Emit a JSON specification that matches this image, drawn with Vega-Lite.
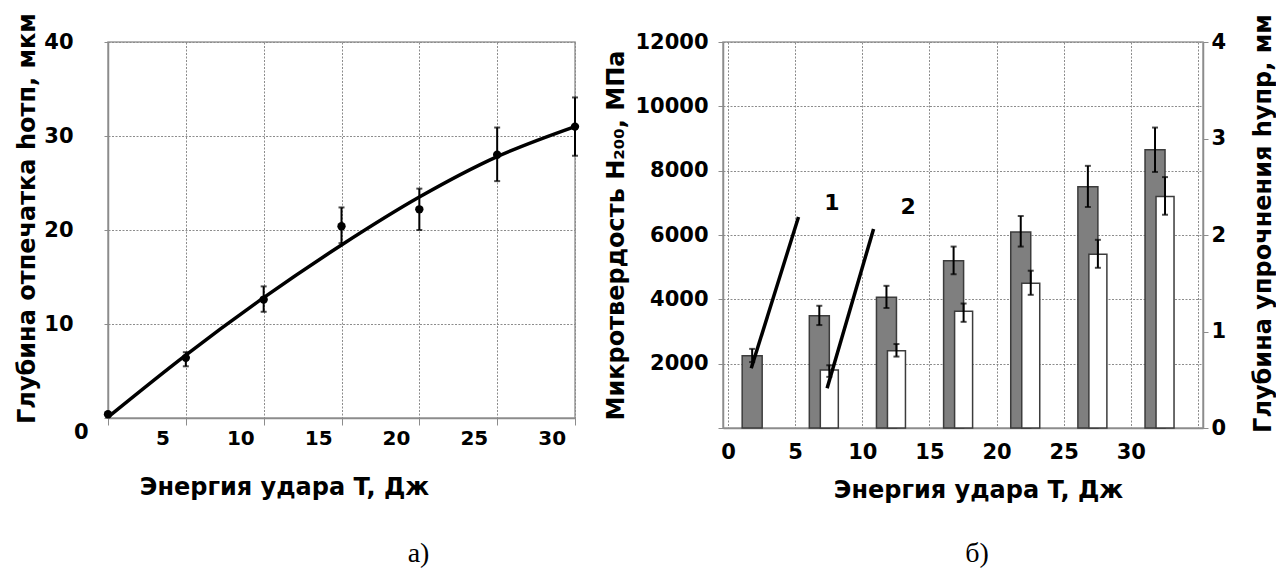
{
  "$schema": "https://vega.github.io/schema/vega-lite/v6.json",
  "padding": {"left": 14, "top": 7, "right": 0, "bottom": 0},
  "spacing": 148,
  "bounds": "flush",
  "background": "white",
  "config": {
    "font": "DejaVu Sans",
    "view": {"stroke": "#9a9a9a", "strokeWidth": 1.5},
    "axis": {
      "labelFont": "DejaVu Sans", "labelFontWeight": "bold", "labelFontSize": 21, "labelColor": "#000",
      "titleFont": "DejaVu Sans", "titleFontWeight": "bold", "titleFontSize": 24, "titleColor": "#000",
      "gridColor": "#8c8c8c", "gridDash": [2, 1.5], "gridWidth": 1,
      "domainColor": "#8c8c8c", "domainWidth": 1.5, "tickColor": "#8c8c8c", "tickWidth": 1,
      "labelOverlap": false
    },
    "title": {"font": "Liberation Serif", "fontSize": 28, "fontWeight": "normal", "color": "#000"}
  },
  "datasets": {
    "depth": [
      {"T": 1.5, "d": 0.4, "lo": null, "hi": null},
      {"T": 6.5, "d": 6.4, "lo": 5.5, "hi": 7.0},
      {"T": 11.5, "d": 12.6, "lo": 11.3, "hi": 14.0},
      {"T": 16.5, "d": 20.4, "lo": 18.6, "hi": 22.4},
      {"T": 21.5, "d": 22.2, "lo": 20.0, "hi": 24.4},
      {"T": 26.5, "d": 28.0, "lo": 25.2, "hi": 30.9},
      {"T": 31.5, "d": 31.0, "lo": 27.9, "hi": 34.1}
    ],
    "fit": [
      {"T": 1.5, "h": 0.1},
      {"T": 6.5, "h": 6.7},
      {"T": 11.5, "h": 12.8},
      {"T": 16.5, "h": 18.4},
      {"T": 21.5, "h": 23.5},
      {"T": 26.5, "h": 27.8},
      {"T": 31.5, "h": 31.0}
    ],
    "hard": [
      {"T": 1.8, "H": 2250, "H_lo": 2050, "H_hi": 2460, "h": null, "h_lo": null, "h_hi": null},
      {"T": 6.8, "H": 3490, "H_lo": 3200, "H_hi": 3800, "h": 0.60, "h_lo": 0.53, "h_hi": 0.65},
      {"T": 11.8, "H": 4065, "H_lo": 3730, "H_hi": 4420, "h": 0.80, "h_lo": 0.74, "h_hi": 0.87},
      {"T": 16.8, "H": 5200, "H_lo": 4780, "H_hi": 5640, "h": 1.21, "h_lo": 1.10, "h_hi": 1.29},
      {"T": 21.8, "H": 6090, "H_lo": 5640, "H_hi": 6590, "h": 1.50, "h_lo": 1.38, "h_hi": 1.63},
      {"T": 26.8, "H": 7500, "H_lo": 6870, "H_hi": 8150, "h": 1.80, "h_lo": 1.66, "h_hi": 1.95},
      {"T": 31.8, "H": 8650, "H_lo": 7960, "H_hi": 9340, "h": 2.40, "h_lo": 2.21, "h_hi": 2.60}
    ],
    "leaders": [
      {"T_a": 5.25, "H_a": 6560, "T_b": 1.73, "H_b": 1856},
      {"T_a": 10.84, "H_a": 6187, "T_b": 7.38, "H_b": 1234}
    ],
    "tags": [
      {"T": 7.73, "H": 6995, "n": "1"},
      {"T": 13.42, "H": 6870, "n": "2"}
    ]
  },
  "hconcat": [
    {
      "width": 467,
      "height": 376,
      "title": {"text": "а)", "orient": "bottom", "offset": 41, "dx": 77},
      "layer": [
        {
          "data": {"name": "fit"},
          "mark": {"type": "line", "interpolate": "monotone", "color": "#000", "strokeWidth": 3.5},
          "encoding": {
            "x": {
              "field": "T", "type": "quantitative",
              "scale": {"domain": [1.5, 31.5], "nice": false, "zero": false},
              "axis": {"orient": "bottom", "values": [1.5, 6.5, 11.5, 16.5, 21.5, 26.5, 31.5], "labels": false, "title": null, "grid": true, "ticks": true, "tickSize": 7, "domain": true}
            },
            "y": {
              "field": "h", "type": "quantitative",
              "scale": {"domain": [0, 40], "nice": false},
              "axis": {
                "values": [0, 10, 20, 30, 40],
                "tickSize": 4,
                "labelPadding": {"condition": {"test": "datum.value == 0", "value": 16}, "value": 31},
                "labelOffset": {"condition": {"test": "datum.value == 0", "value": 14}, "value": 0},
                "minExtent": 62, "maxExtent": 62,
                "title": "Глубина отпечатка  hотп, мкм", "titlePadding": 7, "titleY": 176
              }
            }
          }
        },
        {
          "data": {"name": "depth"},
          "mark": {"type": "rule", "color": "#000", "strokeWidth": 2},
          "encoding": {
            "x": {"field": "T", "type": "quantitative", "axis": null},
            "y": {"field": "lo", "type": "quantitative"},
            "y2": {"field": "hi"}
          }
        },
        {
          "data": {"name": "depth"},
          "mark": {"type": "tick", "orient": "horizontal", "color": "#000", "size": 6, "thickness": 2},
          "encoding": {
            "x": {"field": "T", "type": "quantitative", "axis": null},
            "y": {"field": "lo", "type": "quantitative"}
          }
        },
        {
          "data": {"name": "depth"},
          "mark": {"type": "tick", "orient": "horizontal", "color": "#000", "size": 6, "thickness": 2},
          "encoding": {
            "x": {"field": "T", "type": "quantitative", "axis": null},
            "y": {"field": "hi", "type": "quantitative"}
          }
        },
        {
          "data": {"name": "depth"},
          "mark": {"type": "point", "filled": true, "color": "#000", "size": 70, "opacity": 1},
          "encoding": {
            "x": {
              "field": "T", "type": "quantitative",
              "axis": {
                "orient": "bottom",
                "values": [5, 10, 15, 20, 25, 30], "grid": false, "ticks": false, "tickSize": 0, "domain": false,
                "labelFontSize": 20, "labelFlush": false, "labelPadding": 10, "minExtent": 31, "maxExtent": 31,
                "title": "Энергия удара  T, Дж", "titlePadding": 26, "titleX": 176
              }
            },
            "y": {"field": "d", "type": "quantitative"}
          }
        }
      ],
      "resolve": {"axis": {"x": "independent"}}
    },
    {
      "width": 480,
      "height": 386,
      "title": {"text": "б)", "orient": "bottom", "offset": 38, "dx": 14},
      "layer": [
        {
          "layer": [
            {
              "data": {"name": "hard"},
              "mark": {"type": "bar", "size": 20, "fill": "#7f7f7f", "stroke": "#3c3c3c", "strokeWidth": 1.5},
              "encoding": {
                "x": {
                  "field": "T", "type": "quantitative",
                  "scale": {"domain": [0, 35], "nice": false, "zero": false},
                  "axis": {
                    "orient": "bottom",
                    "values": [0, 5, 10, 15, 20, 25, 30, 35],
                    "labelExpr": "datum.value >= 35 ? '' : datum.label",
                    "grid": true, "ticks": false, "tickSize": 0, "labelPadding": 13,
                    "minExtent": 34, "maxExtent": 34,
                    "title": "Энергия удара  T, Дж", "titlePadding": 16, "titleX": 255
                  }
                },
                "y": {
                  "field": "H", "type": "quantitative",
                  "scale": {"domain": [0, 12000], "nice": false},
                  "axis": {
                    "orient": "left",
                    "values": [0, 2000, 4000, 6000, 8000, 10000, 12000],
                    "format": "d",
                    "labelExpr": "datum.value == 0 ? '' : datum.label",
                    "tickSize": 5, "labelPadding": 10, "minExtent": 88, "maxExtent": 88,
                    "title": "Микротвердость  H₂₀₀, МПа", "titlePadding": 7
                  }
                }
              }
            },
            {
              "data": {"name": "hard"},
              "mark": {"type": "rule", "color": "#000", "strokeWidth": 2},
              "encoding": {
                "x": {"field": "T", "type": "quantitative"},
                "y": {"field": "H_lo", "type": "quantitative"},
                "y2": {"field": "H_hi"}
              }
            },
            {
              "data": {"name": "hard"},
              "mark": {"type": "tick", "orient": "horizontal", "color": "#000", "size": 6, "thickness": 2},
              "encoding": {
                "x": {"field": "T", "type": "quantitative"},
                "y": {"field": "H_lo", "type": "quantitative"}
              }
            },
            {
              "data": {"name": "hard"},
              "mark": {"type": "tick", "orient": "horizontal", "color": "#000", "size": 6, "thickness": 2},
              "encoding": {
                "x": {"field": "T", "type": "quantitative"},
                "y": {"field": "H_hi", "type": "quantitative"}
              }
            }
          ]
        },
        {
          "layer": [
            {
              "data": {"name": "hard"},
              "mark": {"type": "bar", "size": 18, "xOffset": 10, "fill": "#ffffff", "stroke": "#3c3c3c", "strokeWidth": 1.5},
              "encoding": {
                "x": {"field": "T", "type": "quantitative"},
                "y": {
                  "field": "h", "type": "quantitative",
                  "scale": {"domain": [0, 4], "nice": false},
                  "axis": {
                    "orient": "right",
                    "values": [0, 1, 2, 3, 4],
                    "format": "d",
                    "grid": false, "tickSize": 5, "labelPadding": 3, "minExtent": 22, "maxExtent": 22,
                    "title": "Глубина упрочнения  hупр, мм", "titleAngle": -90, "titleBaseline": "top",
                    "titlePadding": 26, "titleY": 181
                  }
                }
              }
            },
            {
              "data": {"name": "hard"},
              "mark": {"type": "rule", "xOffset": 10, "color": "#000", "strokeWidth": 2},
              "encoding": {
                "x": {"field": "T", "type": "quantitative"},
                "y": {"field": "h_lo", "type": "quantitative"},
                "y2": {"field": "h_hi"}
              }
            },
            {
              "data": {"name": "hard"},
              "mark": {"type": "tick", "orient": "horizontal", "xOffset": 10, "color": "#000", "size": 6, "thickness": 2},
              "encoding": {
                "x": {"field": "T", "type": "quantitative"},
                "y": {"field": "h_lo", "type": "quantitative"}
              }
            },
            {
              "data": {"name": "hard"},
              "mark": {"type": "tick", "orient": "horizontal", "xOffset": 10, "color": "#000", "size": 6, "thickness": 2},
              "encoding": {
                "x": {"field": "T", "type": "quantitative"},
                "y": {"field": "h_hi", "type": "quantitative"}
              }
            }
          ]
        },
        {
          "layer": [
            {
              "data": {"name": "leaders"},
              "mark": {"type": "rule", "color": "#000", "strokeWidth": 3.5},
              "encoding": {
                "x": {"field": "T_a", "type": "quantitative"},
                "x2": {"field": "T_b"},
                "y": {"field": "H_a", "type": "quantitative", "scale": {"domain": [0, 12000], "nice": false}, "axis": null},
                "y2": {"field": "H_b"}
              }
            },
            {
              "data": {"name": "tags"},
              "mark": {"type": "text", "font": "DejaVu Sans", "fontWeight": "bold", "fontSize": 22, "color": "#000", "align": "center", "baseline": "middle"},
              "encoding": {
                "x": {"field": "T", "type": "quantitative"},
                "y": {"field": "H", "type": "quantitative", "axis": null},
                "text": {"field": "n"}
              }
            }
          ]
        }
      ],
      "resolve": {"scale": {"y": "independent"}, "axis": {"y": "independent"}}
    }
  ]
}
